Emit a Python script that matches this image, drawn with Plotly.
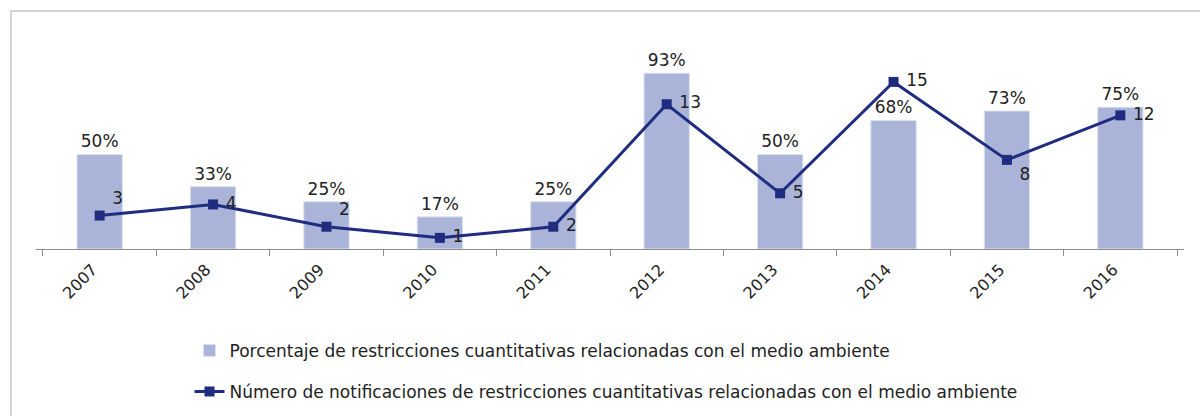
import plotly.graph_objects as go

years = ["2007", "2008", "2009", "2010", "2011", "2012", "2013", "2014", "2015", "2016"]
porcentaje = [50, 33, 25, 17, 25, 93, 50, 68, 73, 75]
numero = [3, 4, 2, 1, 2, 13, 5, 15, 8, 12]

name_bar = "Porcentaje de restricciones cuantitativas relacionadas con el medio ambiente"
name_line = "Número de notificaciones de restricciones cuantitativas relacionadas con el medio ambiente"

line_text_pos = ["top right", "middle right", "top right", "middle right", "middle right",
                 "middle right", "middle right", "middle right", "bottom right", "middle right"]

FONT = "DejaVu Sans, Verdana, sans-serif"
BAR_COLOR = "#A9B4D8"
LINE_COLOR = "#202C80"

fig = go.Figure()
fig.add_trace(go.Bar(
    x=years, y=porcentaje, name=name_bar,
    marker=dict(color=BAR_COLOR, line=dict(color="#DDE2F0", width=1)),
    width=0.4,
    text=[f"{v}%" for v in porcentaje], textposition="outside",
    textfont=dict(family=FONT, size=17, color="#222222"),
    cliponaxis=False, legendgroup="a", yaxis="y",
))
fig.add_trace(go.Scatter(
    x=years, y=numero, name=name_line, mode="lines+markers+text",
    line=dict(color=LINE_COLOR, width=3),
    marker=dict(symbol="square", size=10, color=LINE_COLOR),
    text=[" " + str(v) for v in numero], textposition=line_text_pos,
    textfont=dict(family=FONT, size=17, color="#222222"),
    cliponaxis=False, legendgroup="b", yaxis="y2",
))

fig.update_layout(
    width=1200, height=416,
    margin=dict(l=36, r=16, t=24, b=167, autoexpand=False),
    paper_bgcolor="white", plot_bgcolor="white",
    font=dict(family=FONT, size=17, color="#222222"),
    xaxis=dict(
        type="category", showline=True, linecolor="#8C8C8C", linewidth=1,
        ticks="outside", ticklen=6, tickcolor="#8C8C8C", tickson="boundaries",
        tickangle=-45, showgrid=False, ticklabelshift=-7, ticklabelstandoff=4,
        tickfont=dict(family=FONT, size=16, color="#222222"),
    ),
    yaxis=dict(range=[0, 119], visible=False, showgrid=False, zeroline=False),
    yaxis2=dict(range=[0, 20.2], overlaying="y", side="right", visible=False,
                showgrid=False, zeroline=False),
    showlegend=True,
    legend=dict(xref="container", yref="container", x=0.505, xanchor="center",
                y=0.2, yanchor="top",
                orientation="v", traceorder="grouped", tracegroupgap=16,
                font=dict(family=FONT, size=17, color="#222222"),
                bgcolor="rgba(0,0,0,0)"),
    shapes=[dict(type="rect", xref="paper", yref="paper",
                 x0=-0.0218, x1=1.05, y0=-0.9, y1=1.0578,
                 line=dict(color="#D4D4D4", width=2), fillcolor="rgba(0,0,0,0)", layer="below")],
)

fig.write_html("out.html", config={"displayModeBar": False},
               post_script="document.body.style.margin='0px';")
